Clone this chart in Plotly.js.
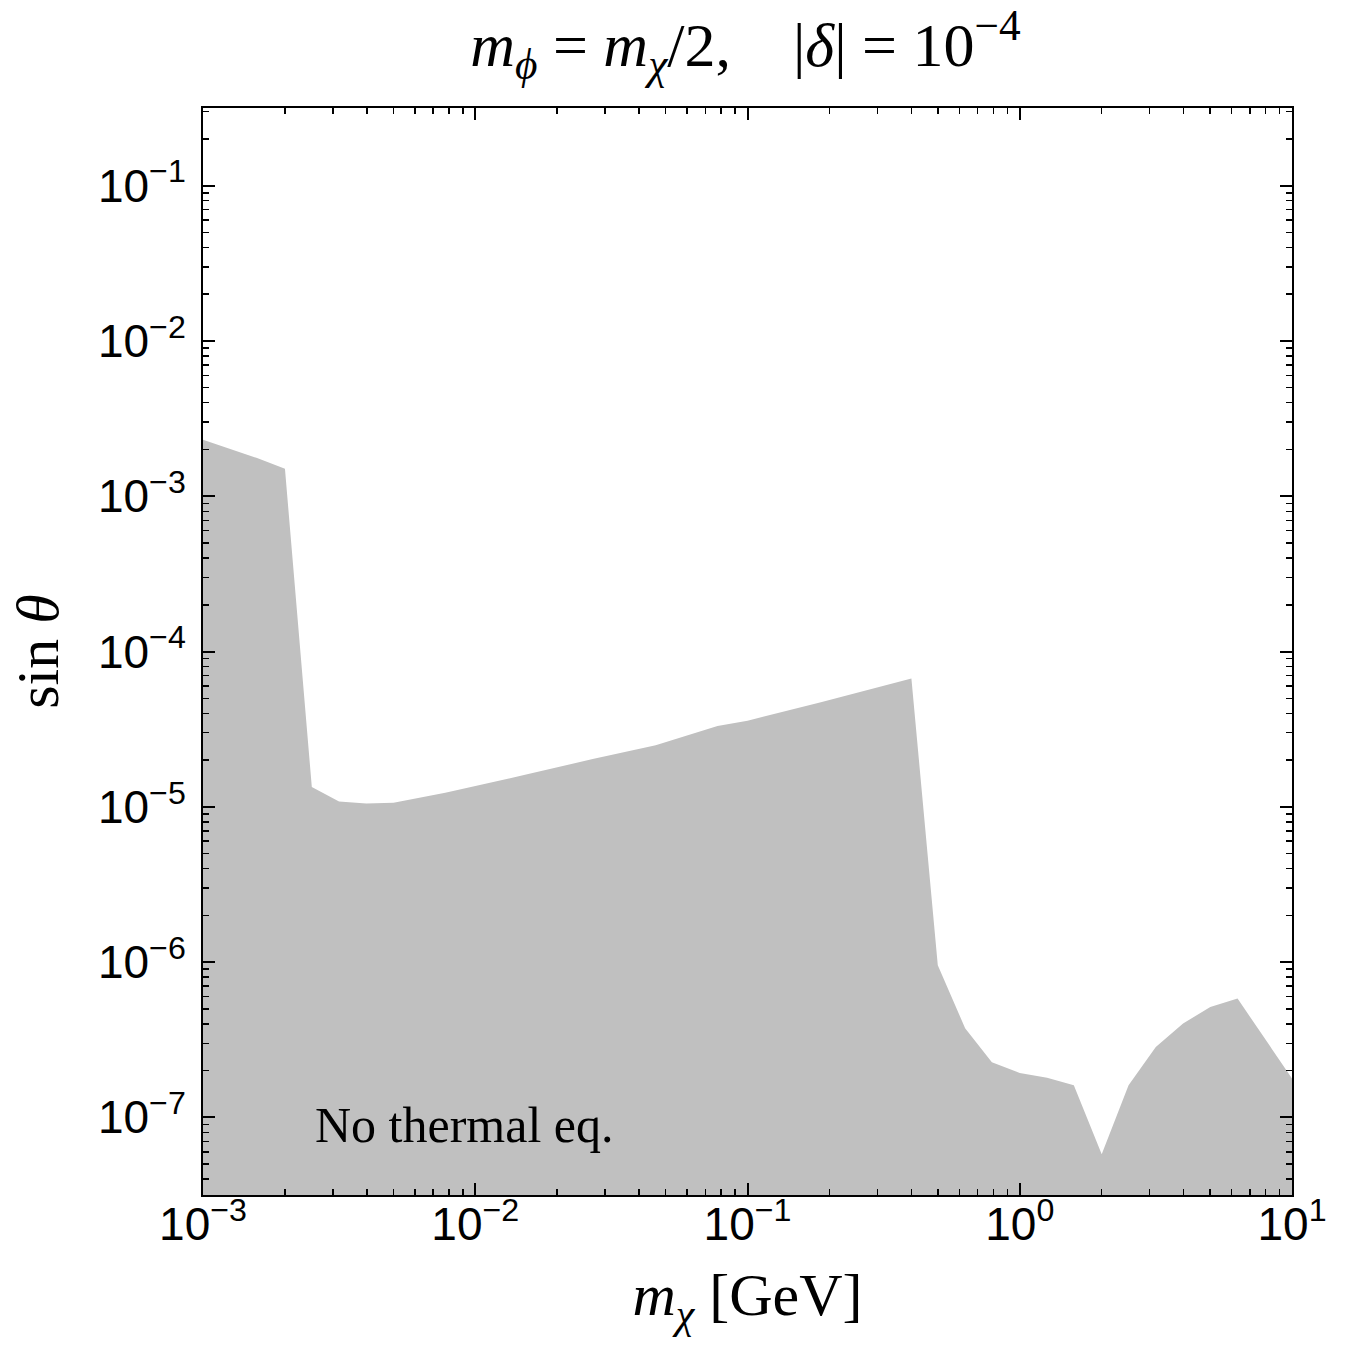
<!DOCTYPE html>
<html>
<head>
<meta charset="utf-8">
<script src="https://cdn.plot.ly/plotly-3.0.1.min.js"></script>
<style>html,body{margin:0;padding:0;background:#fff;}#chart{width:1348px;height:1345px;}</style>
</head>
<body>
<div id="chart"></div>
<script>
// Boundary of the "No thermal eq." region
const mChi = [0.001, 0.00158, 0.0020, 0.00251, 0.00316, 0.00398, 0.00501, 0.00776, 0.0151, 0.0270, 0.0460, 0.0776, 0.100, 0.186, 0.40,
              0.50, 0.63, 0.79, 1.0, 1.26, 1.58, 2.0, 2.51, 3.16, 3.98, 5.01, 6.31, 10.0];
const sinTheta = [2.31e-3, 1.76e-3, 1.50e-3, 1.34e-5, 1.08e-5, 1.05e-5, 1.06e-5, 1.23e-5, 1.60e-5, 2.03e-5, 2.49e-5, 3.31e-5, 3.58e-5, 4.71e-5, 6.71e-5,
                  9.55e-7, 3.75e-7, 2.26e-7, 1.93e-7, 1.80e-7, 1.61e-7, 5.78e-8, 1.61e-7, 2.84e-7, 4.02e-7, 5.14e-7, 5.82e-7, 1.78e-7];
const regionLabel = "No thermal eq.";

// Tick labels
const xTickVals = [1e-3, 1e-2, 1e-1, 1e0, 1e1];
const xTickText = ["10<sup>−3</sup>", "10<sup>−2</sup>", "10<sup>−1</sup>", "10<sup>0</sup>", "10<sup>1</sup>"];
const yTickVals = [1e-7, 1e-6, 1e-5, 1e-4, 1e-3, 1e-2, 1e-1];
const yTickText = ["10<sup>−7</sup>", "10<sup>−6</sup>", "10<sup>−5</sup>", "10<sup>−4</sup>", "10<sup>−3</sup>", "10<sup>−2</sup>", "10<sup>−1</sup>"];

const serif = "Liberation Serif, Times New Roman, serif";
const sans = "Liberation Sans, Arial, sans-serif";

const traces = [{
  x: mChi, y: sinTheta, type: "scatter", mode: "lines",
  fill: "tozeroy", fillcolor: "#c0c0c0",
  line: {width: 0, color: "#c0c0c0"},
  hoverinfo: "skip", showlegend: false
}];

const axisCommon = {
  type: "log",
  showgrid: false, zeroline: false,
  showline: true, linecolor: "black", linewidth: 2,
  mirror: "ticks",
  ticks: "inside", ticklen: 12, tickwidth: 2, tickcolor: "black",
  tickmode: "array",
  tickfont: {family: sans, size: 46, color: "black"},
  minor: {ticks: "inside", ticklen: 6, tickwidth: 1.5, tickcolor: "black", dtick: "D1"}
};

const layout = {
  width: 1348, height: 1345,
  margin: {l: 203, r: 56, t: 108, b: 150},
  paper_bgcolor: "white", plot_bgcolor: "white",
  showlegend: false,
  title: {
    text: "<i>m</i><sub><i>ϕ</i></sub> = <i>m</i><sub><i>χ</i></sub>/2,    |<i>δ</i>| = 10<sup>−4</sup>",
    font: {family: serif, size: 62, color: "black"},
    x: 0.553, xanchor: "center", y: 0.967, yanchor: "middle"
  },
  xaxis: Object.assign({}, axisCommon, {
    range: [-3, 1],
    tickvals: xTickVals, ticktext: xTickText,
    ticklabelstandoff: -12,
    title: {text: "<i>m</i><sub><i>χ</i></sub> [GeV]", font: {family: serif, size: 60, color: "black"}, standoff: 24}
  }),
  yaxis: Object.assign({}, axisCommon, {
    range: [-7.5, -0.5],
    tickvals: yTickVals, ticktext: yTickText,
    ticklabelstandoff: 6,
    title: {text: "sin <i>θ</i>", font: {family: serif, size: 60, color: "black"}, standoff: 20}
  }),
  annotations: [{
    text: regionLabel, xref: "x", yref: "y",
    x: -2.596, y: -7.05, xanchor: "left", yanchor: "middle",
    showarrow: false, font: {family: serif, size: 50, color: "black"}
  }]
};

Plotly.newPlot("chart", traces, layout, {displayModeBar: false, staticPlot: true});
</script>
</body>
</html>
